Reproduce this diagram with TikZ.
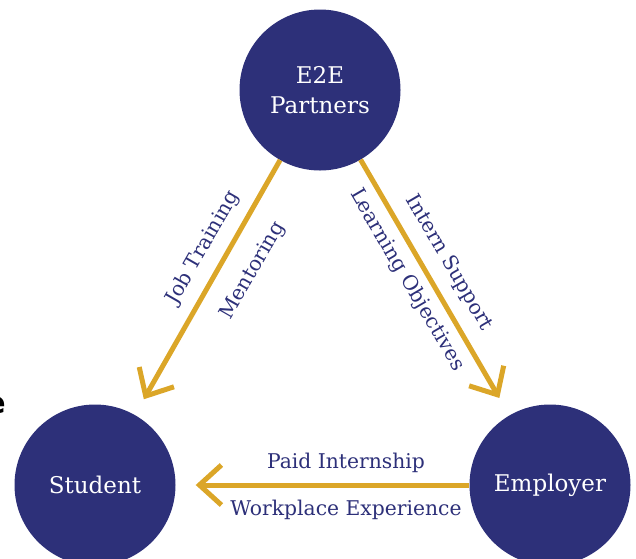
\documentclass[tikz,border=0pt]{standalone}
\usepackage{fontspec}
\setmainfont{DejaVu Serif}
\newfontfamily\sansfam{DejaVu Sans}
\usetikzlibrary{arrows.meta}
\definecolor{navy}{HTML}{2D3079}
\definecolor{gold}{HTML}{DBA628}
\begin{document}
\begin{tikzpicture}[x=1pt,y=-1pt,
  hub/.style={circle,fill=navy,minimum size=161pt,inner sep=0pt,text=white,
    font=\fontsize{23}{30}\selectfont,align=center},
  flow/.style={draw=gold,line width=5pt,
    -{Straight Barb[length=22pt,width=40pt,line width=5pt]}},
  lbl/.style={text=navy,font=\fontsize{20.3}{24}\selectfont,inner sep=0pt}]
\useasboundingbox (0,0) rectangle (636,558);
\clip (0,0) rectangle (636,558);
\node[hub] (e2e) at (320,90) {E2E\\Partners};
\node[hub] (stu) at (95,485) {Student};
\node[hub] (emp) at (550,485) {Employer};
\draw[flow,shorten >=18pt] (e2e) -- (stu);
\draw[flow,shorten >=20pt] (e2e) -- (emp);
\draw[flow,shorten >=20pt] (emp) -- (stu);
\node[lbl,rotate=60.2] (jt) at (203,248) {Job Training};
\node[lbl,rotate=60.2] (men) at (253,271) {Mentoring};
\node[lbl,rotate=-59.7] (is) at (449,263) {Intern Support};
\node[lbl,rotate=-59.7] (lo) at (407,280) {Learning Objectives};
\node[lbl] (pi) at (346,463) {Paid Internship};
\node[lbl] (we) at (346,510) {Workplace Experience};
\node[font=\sansfam\bfseries\fontsize{30}{30}\selectfont,inner sep=0pt,anchor=east] (frag) at (6,405) {e};
\end{tikzpicture}
\end{document}
